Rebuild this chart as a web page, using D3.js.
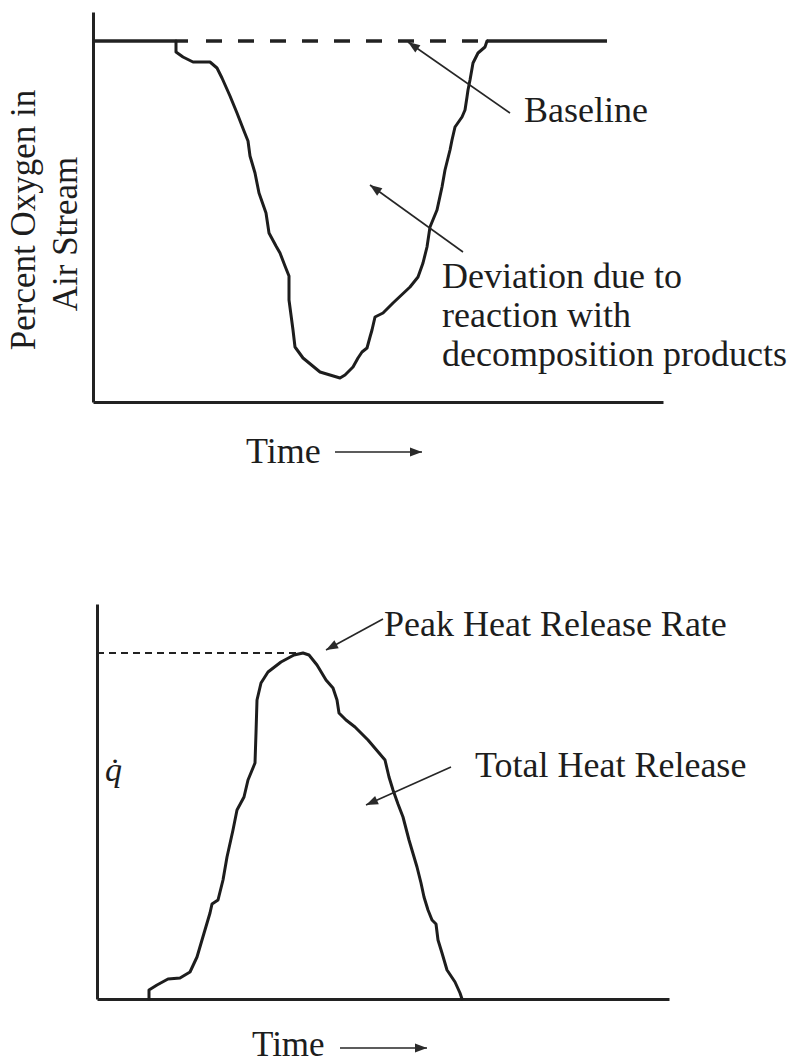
<!DOCTYPE html>
<html>
<head>
<meta charset="utf-8">
<script src="https://cdn.jsdelivr.net/npm/d3@7"></script>
<style>
  html, body { margin: 0; padding: 0; background: #fff; }
  svg { display: block; }
  text { font-family: "Liberation Serif", "Times New Roman", serif; fill: #1d1d1d; }
</style>
</head>
<body>
<svg id="fig" width="790" height="1064"></svg>
<script>
// ---- Top panel: oxygen in the air stream over time (arbitrary units) ----
const o2Time = [83, 83, 90, 100, 117, 124, 129, 137, 144, 151, 155, 157, 162, 166, 173, 176, 183, 187, 192, 196,
  196, 200, 202, 210, 227, 247, 252, 260, 265, 269, 274, 277, 279, 282, 290, 300, 317, 325, 330, 334,
  337, 344, 349, 352, 357, 359, 362, 369, 372, 374, 375, 377, 380, 385, 392, 394];
const o2Signal = [361, 350, 345, 340, 340, 334, 324, 306, 289, 271, 261, 246, 229, 209, 189, 169, 156, 149, 136, 126,
  102, 72, 55, 44, 30, 24, 27, 35, 44, 50, 54, 65, 72, 85, 89, 99, 115, 125, 139, 155,
  175, 192, 215, 232, 252, 262, 275, 285, 292, 305, 312, 322, 339, 349, 355, 361];
const o2BaselineLevel = 361;
const baselineSolidSpans = [[0, 95], [394, 514]];
const baselineDashedSpan = [113, 385];

// ---- Bottom panel: heat release rate over time (arbitrary units) ----
const hrrTime = [52, 52, 60, 71, 83, 93, 100, 105, 113, 115, 121, 126, 130, 136, 140, 147, 151, 158, 159, 160,
  164, 171, 184, 197, 206, 212, 220, 229, 236, 240, 242, 249, 258, 271, 288, 292, 296, 301, 306, 312,
  320, 324, 327, 331, 335, 339, 341, 345, 350, 358, 363, 365];
const hrrValue = [0, 9, 14, 20, 21, 27, 42, 59, 86, 95, 99, 119, 142, 169, 189, 202, 219, 236, 266, 299,
  316, 327, 337, 344, 346, 344, 334, 319, 311, 299, 286, 279, 272, 259, 239, 222, 209, 195, 182, 159,
  132, 116, 102, 89, 79, 75, 59, 46, 29, 17, 6, 0];
const hrrPeakValue = 346;
const hrrPeakTime = 206;

// ---- Text ----
const o2AxisLines = ["Percent Oxygen in", "Air Stream"];
const deviationLines = ["Deviation due to", "reaction with", "decomposition products"];
const baselineLabel = "Baseline";
const peakLabel = "Peak Heat Release Rate";
const totalLabel = "Total Heat Release";
const hrrAxisLabel = "q\u0307";
const timeLabel = "Time";

const ink = "#1d1d1d";
const fontSize = 36;
const svg = d3.select("#fig");

// Arrowhead markers
const defs = svg.append("defs");
defs.append("marker")
  .attr("id", "head")
  .attr("viewBox", "0 -5 12 10")
  .attr("refX", 12).attr("refY", 0)
  .attr("markerUnits", "userSpaceOnUse")
  .attr("markerWidth", 13).attr("markerHeight", 10)
  .attr("orient", "auto")
  .append("path").attr("d", "M0,-4.5L12,0L0,4.5Z").attr("fill", "#2a2a2a");

function arrow(g, x1, y1, x2, y2, w) {
  g.append("line")
    .attr("x1", x1).attr("y1", y1).attr("x2", x2).attr("y2", y2)
    .attr("stroke", "#262626").attr("stroke-width", w || 1.6)
    .attr("marker-end", "url(#head)");
}

function drawAxes(g, x, y) {
  const styleAxis = sel => {
    sel.select(".domain").attr("stroke", "#222").attr("stroke-width", 3);
    sel.selectAll(".tick").remove();
  };
  g.append("g").attr("transform", `translate(0,${y.range()[0]})`)
    .call(d3.axisBottom(x).tickValues([]).tickSizeOuter(0)).call(styleAxis);
  g.append("g").attr("transform", `translate(${x.range()[0]},0)`)
    .call(d3.axisLeft(y).tickValues([]).tickSizeOuter(0)).call(styleAxis);
}

// =================== Top panel ===================
const topPanel = svg.append("g");
const xT = d3.scaleLinear().domain([0, 570]).range([93, 663]);
const yT = d3.scaleLinear().domain([0, 390]).range([402, 12]);

drawAxes(topPanel, xT, yT);

// Baseline: solid ends, dashed across the dip
baselineSolidSpans.forEach(([a, b]) => {
  topPanel.append("line")
    .attr("x1", xT(a)).attr("x2", xT(b))
    .attr("y1", yT(o2BaselineLevel)).attr("y2", yT(o2BaselineLevel))
    .attr("stroke", "#222").attr("stroke-width", 3.5);
});
topPanel.append("line")
  .attr("x1", xT(baselineDashedSpan[0])).attr("x2", xT(baselineDashedSpan[1]))
  .attr("y1", yT(o2BaselineLevel)).attr("y2", yT(o2BaselineLevel))
  .attr("stroke", "#222").attr("stroke-width", 3.5)
  .attr("stroke-dasharray", "16,16");

const o2Line = d3.line().x(d => xT(d[0])).y(d => yT(d[1]));
topPanel.append("path")
  .datum(o2Time.map((t, i) => [t, o2Signal[i]]))
  .attr("d", o2Line)
  .attr("fill", "none").attr("stroke", ink)
  .attr("stroke-width", 3).attr("stroke-linejoin", "round").attr("stroke-linecap", "round");

// Annotations
arrow(topPanel, 510, 113, xT(315), yT(o2BaselineLevel) + 1);
topPanel.append("text").attr("x", 524).attr("y", 122).attr("font-size", fontSize).text(baselineLabel);

arrow(topPanel, 463, 252, xT(277), yT(217));
deviationLines.forEach((s, i) => {
  topPanel.append("text").attr("x", 442).attr("y", 288 + i * 39).attr("font-size", fontSize).text(s);
});

// Rotated y-axis title
o2AxisLines.forEach((s, i) => {
  const bx = [35, 77][i], cy = [220, 234][i];
  topPanel.append("text")
    .attr("transform", `translate(${bx},${cy}) rotate(-90)`)
    .attr("text-anchor", "middle").attr("font-size", 35).text(s);
});

topPanel.append("text").attr("x", 246).attr("y", 463).attr("font-size", fontSize).text(timeLabel);
arrow(topPanel, 335, 452, 422, 452, 1.6);

// =================== Bottom panel ===================
const bottomPanel = svg.append("g");
const xB = d3.scaleLinear().domain([0, 572]).range([97, 669]);
const yB = d3.scaleLinear().domain([0, 395]).range([999, 604]);

drawAxes(bottomPanel, xB, yB);

// Peak marker line
bottomPanel.append("line")
  .attr("x1", xB(0)).attr("x2", xB(hrrPeakTime))
  .attr("y1", yB(hrrPeakValue)).attr("y2", yB(hrrPeakValue))
  .attr("stroke", "#222").attr("stroke-width", 2)
  .attr("stroke-dasharray", "7,5");

const hrrLine = d3.line().x(d => xB(d[0])).y(d => yB(d[1]));
bottomPanel.append("path")
  .datum(hrrTime.map((t, i) => [t, hrrValue[i]]))
  .attr("d", hrrLine)
  .attr("fill", "none").attr("stroke", ink)
  .attr("stroke-width", 3).attr("stroke-linejoin", "round").attr("stroke-linecap", "round");

arrow(bottomPanel, 383, 619, xB(229), yB(349));
bottomPanel.append("text").attr("x", 384).attr("y", 636).attr("font-size", fontSize).text(peakLabel);

arrow(bottomPanel, 451, 767, xB(269), yB(194));
bottomPanel.append("text").attr("x", 475).attr("y", 777).attr("font-size", fontSize).text(totalLabel);

bottomPanel.append("text").attr("x", 105).attr("y", 781).attr("font-size", 34)
  .attr("font-style", "italic").text(hrrAxisLabel);

bottomPanel.append("text").attr("x", 252).attr("y", 1056).attr("font-size", 35).text(timeLabel);
arrow(bottomPanel, 340, 1048, 427, 1048, 1.6);
</script>
</body>
</html>
